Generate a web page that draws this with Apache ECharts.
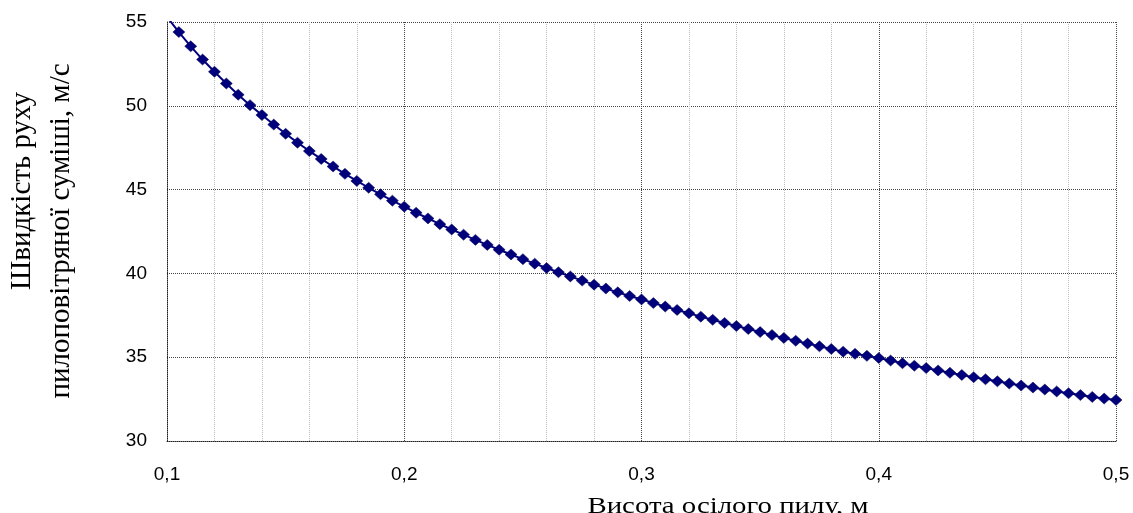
<!DOCTYPE html>
<html>
<head>
<meta charset="utf-8">
<script src="https://cdn.jsdelivr.net/npm/echarts@6/dist/echarts.min.js"></script>
<style>
  html, body { margin: 0; padding: 0; background: #fff; }
  #main { width: 1133px; height: 513px; }
</style>
</head>
<body>
<div id="main"></div>
<script>
// висота осілого пилу, м
var heights = [
  0.100, 0.105, 0.110, 0.115, 0.120, 0.125, 0.130, 0.135, 0.140, 0.145,
  0.150, 0.155, 0.160, 0.165, 0.170, 0.175, 0.180, 0.185, 0.190, 0.195,
  0.200, 0.205, 0.210, 0.215, 0.220, 0.225, 0.230, 0.235, 0.240, 0.245,
  0.250, 0.255, 0.260, 0.265, 0.270, 0.275, 0.280, 0.285, 0.290, 0.295,
  0.300, 0.305, 0.310, 0.315, 0.320, 0.325, 0.330, 0.335, 0.340, 0.345,
  0.350, 0.355, 0.360, 0.365, 0.370, 0.375, 0.380, 0.385, 0.390, 0.395,
  0.400, 0.405, 0.410, 0.415, 0.420, 0.425, 0.430, 0.435, 0.440, 0.445,
  0.450, 0.455, 0.460, 0.465, 0.470, 0.475, 0.480, 0.485, 0.490, 0.495,
  0.500
];
// швидкість руху пилоповітряної суміші, м/с
var speeds = [
  55.30, 54.40, 53.55, 52.76, 52.03, 51.33, 50.66, 50.04, 49.45, 48.88,
  48.33, 47.80, 47.30, 46.83, 46.38, 45.94, 45.52, 45.11, 44.72, 44.34,
  43.98, 43.62, 43.28, 42.94, 42.62, 42.31, 42.00, 41.70, 41.41, 41.13,
  40.85, 40.58, 40.32, 40.07, 39.82, 39.57, 39.33, 39.10, 38.87, 38.65,
  38.45, 38.23, 38.02, 37.82, 37.62, 37.42, 37.23, 37.04, 36.86, 36.68,
  36.50, 36.32, 36.15, 35.98, 35.81, 35.65, 35.49, 35.33, 35.20, 35.08,
  34.95, 34.80, 34.64, 34.49, 34.35, 34.21, 34.07, 33.94, 33.81, 33.68,
  33.56, 33.43, 33.31, 33.19, 33.07, 32.96, 32.85, 32.74, 32.63, 32.53,
  32.45
];
var xTicks = [0.1, 0.2, 0.3, 0.4, 0.5];
var yTicks = [30, 35, 40, 45, 50, 55];

var points = heights.map(function (h, i) { return [h, speeds[i]]; });

var myChart = echarts.init(document.getElementById('main'));

var option = {
  animation: false,
  grid: { left: 167, right: 17, top: 22, bottom: 72, outerBoundsMode: 'none' },
  xAxis: {
    type: 'value',
    min: xTicks[0],
    max: xTicks[xTicks.length - 1],
    interval: 0.1,
    axisLine: { lineStyle: { color: '#222', type: 'dotted', width: 1 } },
    axisTick: { show: false },
    axisLabel: {
      margin: 24,
      color: '#000',
      fontFamily: 'Liberation Sans',
      fontSize: 19,
      formatter: function (v) { return v.toFixed(1).replace('.', ','); }
    },
    splitLine: { lineStyle: { color: '#444', type: 'dotted', width: 1 } },
    minorTick: { show: false, splitNumber: 5 },
    minorSplitLine: { show: true, lineStyle: { color: '#bdbdbd', type: 'dotted', width: 1 } }
  },
  yAxis: {
    type: 'value',
    min: yTicks[0],
    max: yTicks[yTicks.length - 1],
    interval: 5,
    axisLine: { show: true, lineStyle: { color: '#222', type: 'dotted', width: 1 } },
    axisTick: { show: false },
    axisLabel: {
      margin: 20,
      color: '#000',
      fontFamily: 'Liberation Sans',
      fontSize: 19
    },
    splitLine: { lineStyle: { color: '#444', type: 'dotted', width: 1 } }
  },
  graphic: [
    {
      type: 'text', x: 22, y: 191, rotation: Math.PI / 2,
      style: {
        text: 'Швидкість руху', fill: '#000',
        font: '29px "Liberation Serif"', align: 'center', verticalAlign: 'middle'
      }
    },
    {
      type: 'text', x: 61, y: 231, rotation: Math.PI / 2,
      style: {
        text: 'пилоповітряної суміші, м/с', fill: '#000',
        font: '29px "Liberation Serif"', align: 'center', verticalAlign: 'middle'
      }
    },
    {
      type: 'text', x: 728, y: 507, scaleX: 1.2,
      style: {
        text: 'Висота осілого пилу, м', fill: '#000',
        font: '24px "Liberation Serif"', align: 'center', verticalAlign: 'middle'
      }
    }
  ],
  series: [{
    type: 'line',
    data: points,
    clip: true,
    symbol: 'diamond',
    symbolSize: [12, 11],
    lineStyle: { color: '#000080', width: 2 },
    itemStyle: { color: '#00007c', borderColor: '#000050', borderWidth: 0.5 }
  }]
};

myChart.setOption(option);
</script>
</body>
</html>
